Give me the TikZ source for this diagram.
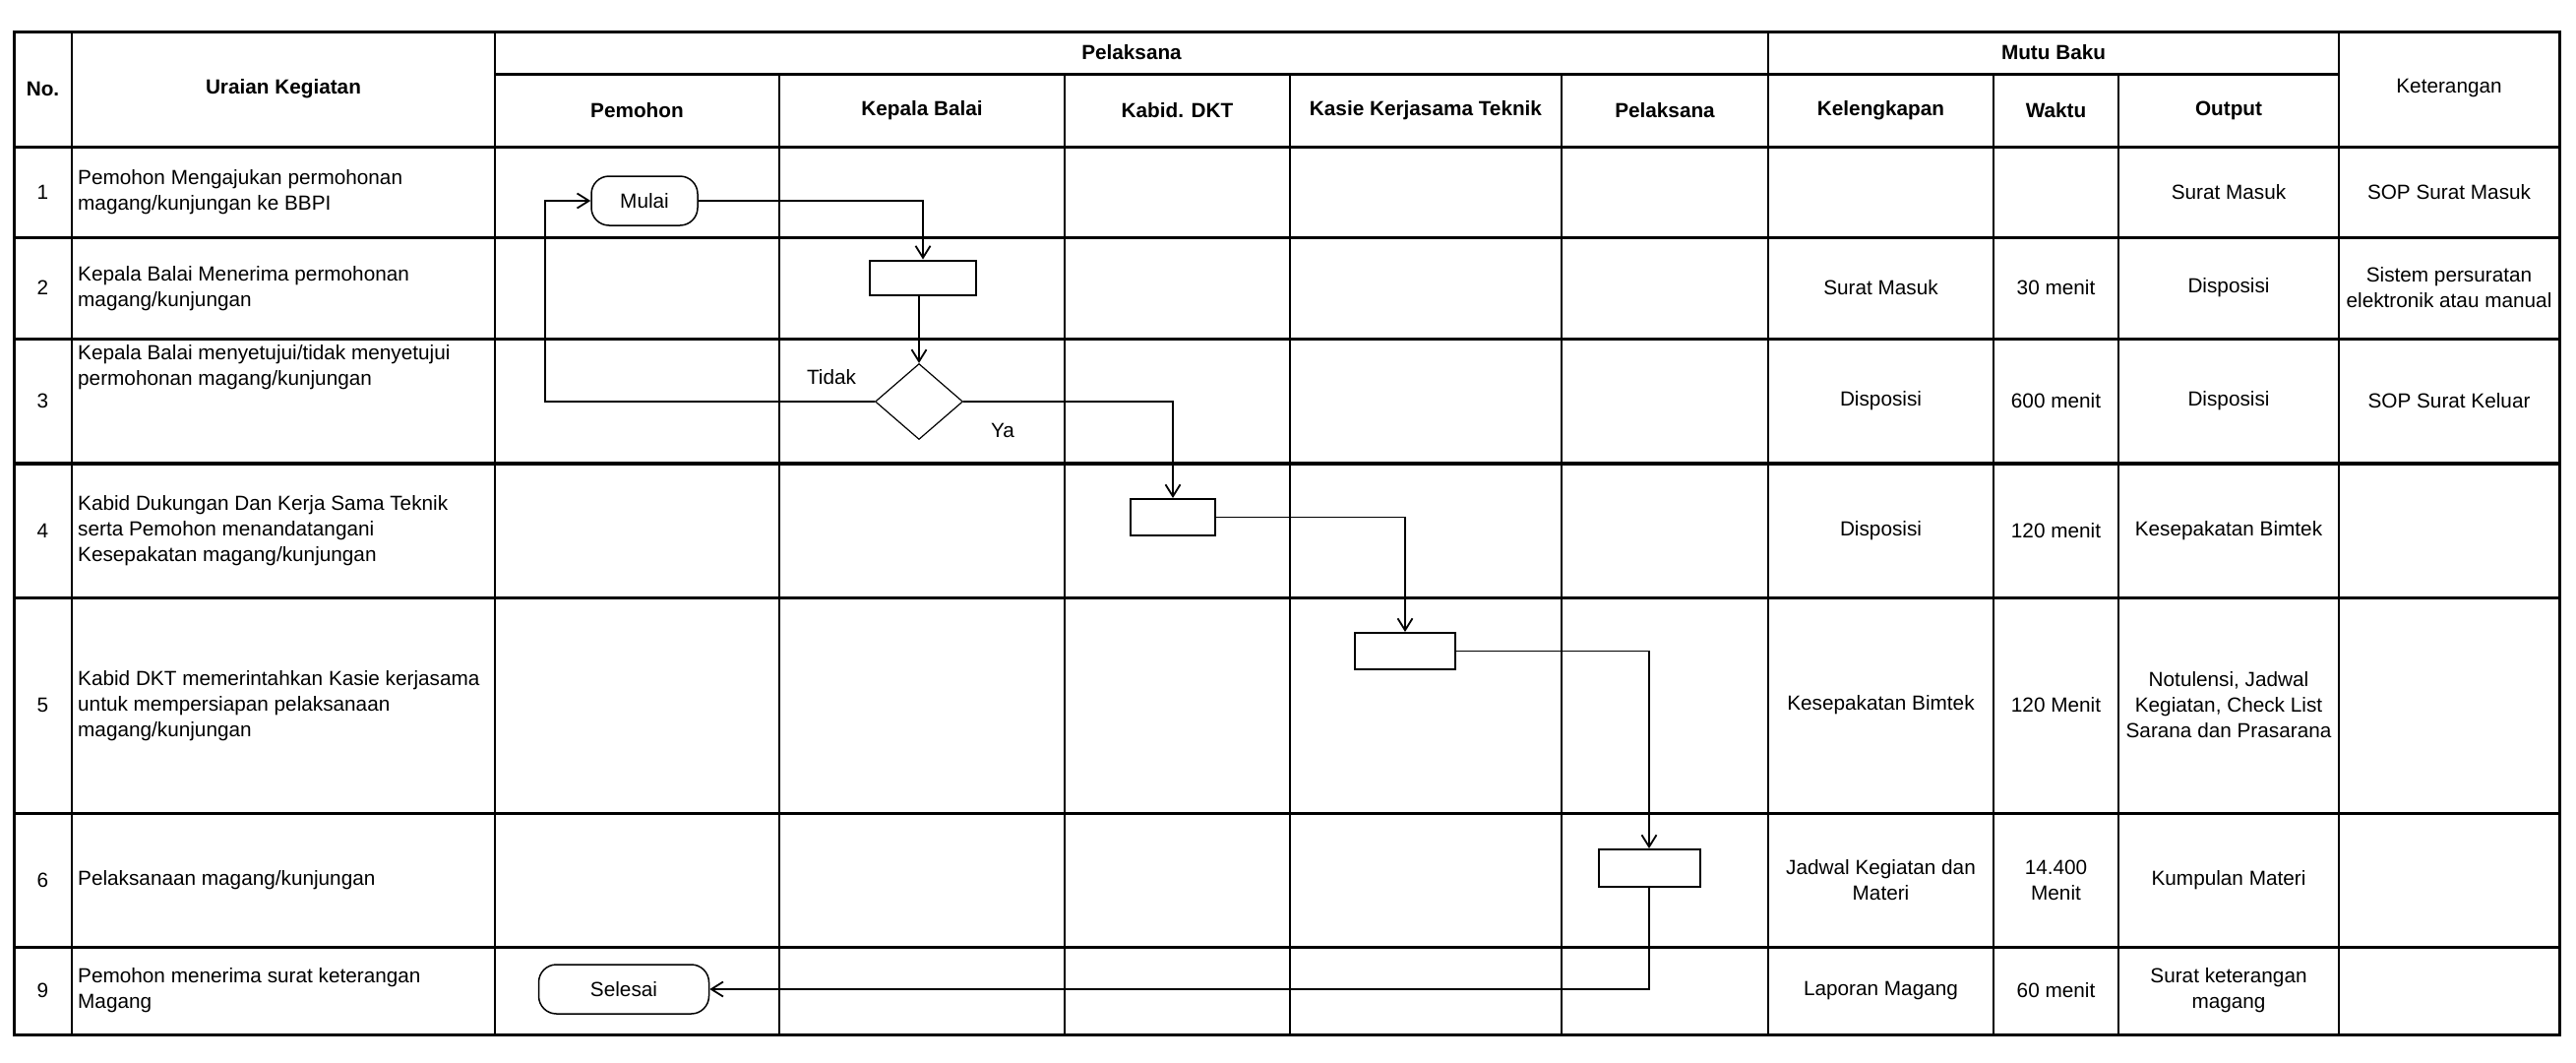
\documentclass[tikz,border=0pt]{standalone}
\usepackage{fontspec}
\setmainfont{Liberation Sans}
\usetikzlibrary{arrows.meta,shapes.geometric}
\begin{document}
\begin{tikzpicture}[x=1pt,y=-1pt,
  every node/.style={font=\fontsize{20.75}{26}\selectfont, inner sep=0pt, align=center},
  hdr/.style={font=\fontsize{20.75}{26}\selectfont\bfseries},
  hrule/.style={line width=3pt},
  thick rule/.style={line width=4.6pt},
  vrule/.style={line width=2.6pt},
  desc/.style={anchor=west, align=left},
  procbox/.style={draw, line width=2pt, fill=white, minimum height=37pt},
  termbox/.style={draw, line width=1.5pt, fill=white, rounded corners=18pt, minimum height=50pt},
  decbox/.style={draw, diamond, line width=1.2pt, fill=white, minimum width=89pt, minimum height=77pt},
  arr/.style={line width=1.8pt, -{Straight Barb[length=12pt,width=15pt,line width=1.8pt]}}
]
\useasboundingbox (0,0) rectangle (2618,1079);

% ---- table grid ----
\draw[hrule] (14,32) rectangle (2601,1051);
\draw[hrule] (503,75) -- (2377,75);
\foreach \yy in {149,241,344,607,826,962} \draw[hrule] (14,\yy) -- (2601,\yy);
\draw[thick rule] (14,471) -- (2601,471);
\foreach \xx in {73,503,1797,2377} \draw[vrule] (\xx,32) -- (\xx,1051);
\foreach \xx in {792,1082,1311,1587,2026,2153} \draw[vrule] (\xx,75) -- (\xx,1051);

% ---- headers ----
\node[hdr] (hno) at (43.5,90) {No.};
\node[hdr] (hur) at (288,90) {Uraian Kegiatan};
\node[hdr] (hpel) at (1150,53.5) {Pelaksana};
\node[hdr] (hmb) at (2087,53.5) {Mutu Baku};
\node (hket) at (2489,90) {Keterangan};
\node[hdr] (hpem) at (647.5,112) {Pemohon};
\node[hdr] (hkb) at (937,112) {Kepala Balai};
\node[hdr] (hdkt) at (1196.5,112) {Kabid. DKT};
\node[hdr] (hkasie) at (1449,112) {Kasie Kerjasama Teknik};
\node[hdr] (hpl) at (1692,112) {Pelaksana};
\node[hdr] (hkel) at (1911.5,112) {Kelengkapan};
\node[hdr] (hwak) at (2089.5,112) {Waktu};
\node[hdr] (hout) at (2265,112) {Output};

% ---- row numbers ----
\node (n1) at (43.5,195) {1};
\node (n2) at (43.5,292.5) {2};
\node (n3) at (43.5,407.5) {3};
\node (n4) at (43.5,539) {4};
\node (n5) at (43.5,716.5) {5};
\node (n6) at (43.5,894) {6};
\node (n9) at (43.5,1006.5) {9};

% ---- descriptions ----
\node[desc] (d1) at (79,195) {Pemohon Mengajukan permohonan\\magang/kunjungan ke BBPI};
\node[desc] (d2) at (79,293) {Kepala Balai Menerima permohonan\\magang/kunjungan};
\node[desc] (d3) at (79,373) {Kepala Balai menyetujui/tidak menyetujui\\permohonan magang/kunjungan};
\node[desc] (d4) at (79,539) {Kabid Dukungan Dan Kerja Sama Teknik\\serta Pemohon menandatangani\\Kesepakatan magang/kunjungan};
\node[desc] (d5) at (79,717) {Kabid DKT memerintahkan Kasie kerjasama\\untuk mempersiapan pelaksanaan\\magang/kunjungan};
\node[desc] (d6) at (79,894) {Pelaksanaan magang/kunjungan};
\node[desc] (d9) at (79,1006) {Pemohon menerima surat keterangan\\Magang};

% ---- Mutu Baku / Keterangan ----
\node (o1) at (2265,195) {Surat Masuk};
\node (k1) at (2489,195) {SOP Surat Masuk};

\node (l2) at (1911.5,292.5) {Surat Masuk};
\node (w2) at (2089.5,292.5) {30 menit};
\node (o2) at (2265,292.5) {Disposisi};
\node (k2) at (2489,292.5) {Sistem persuratan\\elektronik atau manual};

\node (l3) at (1911.5,407.5) {Disposisi};
\node (w3) at (2089.5,407.5) {600 menit};
\node (o3) at (2265,407.5) {Disposisi};
\node (k3) at (2489,407.5) {SOP Surat Keluar};

\node (l4) at (1911.5,539) {Disposisi};
\node (w4) at (2089.5,539) {120 menit};
\node (o4) at (2265,539) {Kesepakatan Bimtek};

\node (l5) at (1911.5,716.5) {Kesepakatan Bimtek};
\node (w5) at (2089.5,716.5) {120 Menit};
\node (o5) at (2265,716.5) {Notulensi, Jadwal\\Kegiatan, Check List\\Sarana dan Prasarana};

\node (l6) at (1911.5,894) {Jadwal Kegiatan dan\\Materi};
\node (w6) at (2089.5,894) {14.400\\Menit};
\node (o6) at (2265,894) {Kumpulan Materi};

\node (l9) at (1911.5,1006.5) {Laporan Magang};
\node (w9) at (2089.5,1006.5) {60 menit};
\node (o9) at (2265,1006.5) {Surat keterangan\\magang};

% ---- flow ----
\node[termbox, minimum width=108pt] (mulai) at (655,204) {Mulai};
\node[procbox, minimum width=108pt, minimum height=35pt] (b2) at (938,282) {};
\node[decbox] (dia) at (934,408) {};
\node[procbox, minimum width=86pt] (b4) at (1192,525.5) {};
\node[procbox, minimum width=102pt] (b5) at (1428,661.5) {};
\node[procbox, minimum width=103pt, minimum height=38pt] (b6) at (1676,882) {};
\node[termbox, minimum width=173pt] (selesai) at (634,1005) {Selesai};

\node (tidak) at (845,383) {Tidak};
\node (ya) at (1019,437) {Ya};

\coordinate (ret) at (554,408);
\draw[arr] (mulai.east) -| (b2.north);
\draw[arr] (dia.north |- b2.south) -- (dia.north);
\draw[arr] (dia.west) -- (ret) |- (mulai.west);
\draw[arr] (dia.east) -| (b4.north);
\draw[arr] (b4.east) -| (b5.north);
\draw[arr] (b5.east) -| (b6.north);
\draw[arr] (b6.south) |- (selesai.east);
\end{tikzpicture}
\end{document}
